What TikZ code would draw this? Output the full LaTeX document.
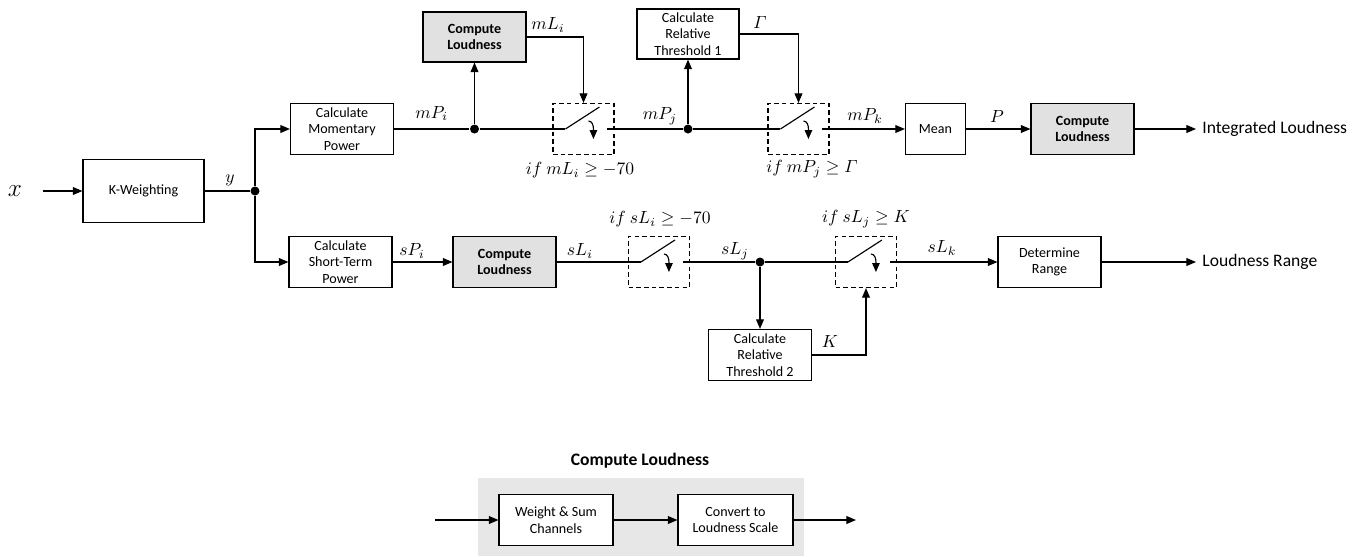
\documentclass[tikz,border=0pt]{standalone}
\usepackage{amsmath,amssymb}
\usepackage{fontspec}
\setmainfont{Carlito}
\usepackage{xcolor}
\usepackage{tikz}
\usetikzlibrary{arrows.meta,calc,positioning}
\definecolor{clgray}{RGB}{225,225,225}
\definecolor{bggray}{RGB}{231,231,231}

\begin{document}
\begin{tikzpicture}[x=0.02cm,y=-0.02cm,line width=0.65pt,
    blk/.style={draw,align=center,inner sep=1pt,minimum width=2.06cm,minimum height=1.02cm,font=\fontsize{8}{9.5}\selectfont},
    clblk/.style={blk,fill=clgray,font=\fontsize{8}{9.5}\selectfont\bfseries},
    swbox/.style={draw,dash pattern=on 2.6pt off 1.8pt,minimum width=1.22cm,minimum height=1.02cm},
    dot/.style={circle,fill,inner sep=0pt,minimum size=0.18cm},
    lbl/.style={font=\fontsize{10}{12}\selectfont},
    arr/.style={-{Triangle[length=5.5pt,width=4.5pt]}}]
    \useasboundingbox (0,0) rectangle (1362,556);

    % input and weighting
    \node[font=\Large] (xin) at (15,191) {$x$};
    \node[blk,minimum width=2.42cm,minimum height=1.26cm] (kw) at (143.5,191) {K-Weighting};
    \node[dot] (j0) at (255,191) {};
    \node[lbl] (ylab) at (230,180) {$y$};

    % momentary branch
    \node[blk] (mpow) at (342,129) {Calculate\\Momentary\\Power};
    \node[dot] (j1) at (474.5,129) {};
    \node[clblk,minimum height=1.0cm] (cl1) at (474.5,37) {Compute\\Loudness};
    \node[swbox] (sw1) at (583.5,129) {};
    \node[dot] (j2) at (688,129) {};
    \node[blk,minimum width=2.04cm,minimum height=1.0cm] (thr1) at (688,34) {Calculate\\Relative\\Threshold 1};
    \node[swbox] (sw2) at (798.5,129) {};
    \node[blk,minimum width=1.2cm] (mean) at (935.5,129) {Mean};
    \node[clblk] (cl2) at (1082.5,129) {Compute\\Loudness};
    \node[lbl,anchor=west] (il) at (1196,129) {Integrated Loudness};

    % short-term branch
    \node[blk] (spow) at (340.5,262) {Calculate\\Short-Term\\Power};
    \node[clblk] (cl3) at (504.5,262) {Compute\\Loudness};
    \node[swbox] (sw3) at (659,262) {};
    \node[dot] (j3) at (760,262) {};
    \node[blk] (thr2) at (760,355) {Calculate\\Relative\\Threshold 2};
    \node[swbox] (sw4) at (866,262) {};
    \node[blk] (range) at (1049.5,262) {Determine\\Range};
    \node[lbl,anchor=west] (lr) at (1196,262) {Loudness Range};

    % switch contacts
    \foreach \s in {sw1,sw2,sw3,sw4}{
        \coordinate (\s-in) at ($(\s.west)+(13,0)$);
        \coordinate (\s-out) at ($(\s.west)+(55,0)$);
        \draw (\s-in) -- ++(34,-22);
        \draw[-{Triangle[length=5pt,width=4.2pt]}] ($(\s.west)+(36,-8)$) to[out=0,in=90] ++(5,8) -- ++(0,10);
    }

    % connections
    \draw[arr,shorten <=8pt] (xin) -- (kw);
    \draw (kw) -- (j0);
    \draw[arr] (j0) |- (mpow);
    \draw[arr] (j0) |- (spow);
    \draw (mpow) -- (j1) node[lbl,midway,above=1pt] {$mP_i$};
    \draw[arr] (j1) -- (cl1);
    \draw (j1) -- (sw1-in);
    \draw[arr] (cl1) -| (sw1.north);
    \draw (sw1-out) -- (j2);
    \draw[arr] (j2) -- (thr1);
    \draw (j2) -- (sw2-in);
    \draw[arr] (thr1) -| (sw2.north);
    \draw[arr] (sw2-out) -- (mean);
    \draw[arr] (mean) -- (cl2);
    \draw[arr] (cl2) -- (il);
    \draw[arr] (spow) -- (cl3);
    \draw (cl3) -- (sw3-in);
    \draw (sw3-out) -- (j3);
    \draw[arr] (j3) -- (thr2);
    \draw (j3) -- (sw4-in);
    \draw[arr] (thr2) -| (sw4.south);
    \draw[arr] (sw4-out) -- (range);
    \draw[arr] (range) -- (lr);

    % signal labels
    \node[lbl] at (548,25) {$mL_i$};
    \node[lbl] at (660,116) {$mP_j$};
    \node[lbl] at (760,22) {$\varGamma$};
    \node[lbl] at (865,116) {$mP_k$};
    \node[lbl] at (997,116) {$P$};
    \node[lbl] at (412,251) {$sP_i$};
    \node[lbl] at (580,251) {$sL_i$};
    \node[lbl] at (735,251) {$sL_j$};
    \node[lbl] at (830,341) {$K$};
    \node[lbl] at (942,248) {$sL_k$};
    \node[lbl] at (580,170) {$if\ mL_i \geq -70$};
    \node[lbl] at (812,169) {$if\ mP_j \geq \varGamma$};
    \node[lbl] at (660,219) {$if\ sL_i \geq -70$};
    \node[lbl] at (866,219) {$if\ sL_j \geq K$};

    % compute loudness detail
    \node[lbl,font=\fontsize{10}{12}\selectfont\bfseries] (cltitle) at (640,461) {Compute Loudness};
    \fill[bggray] (478,478) rectangle (804,556);
    \coordinate (lin) at (435,520);
    \coordinate (lout) at (856,520);
    \node[blk,fill=white,minimum width=2.28cm] (wsum) at (556,520) {Weight \& Sum\\Channels};
    \node[blk,fill=white,minimum width=2.3cm] (conv) at (735.5,520) {Convert to\\Loudness Scale};
    \draw[arr] (lin) -- (wsum);
    \draw[arr] (wsum) -- (conv);
    \draw[arr] (conv) -- (lout);
\end{tikzpicture}
\end{document}
